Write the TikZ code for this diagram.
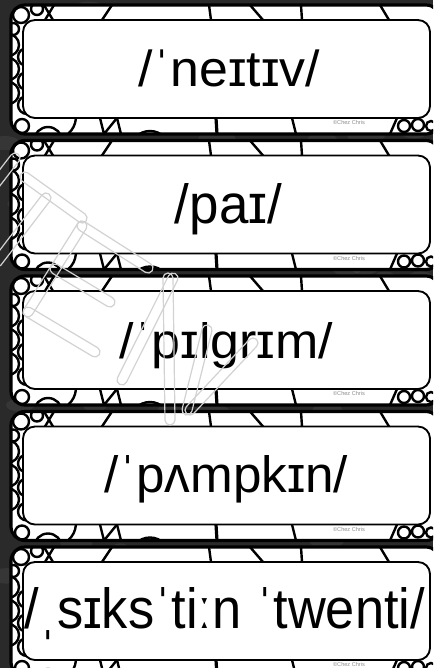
\documentclass[tikz,border=0pt]{standalone}
\usepackage{fontspec}
\usepackage{graphicx}
\newfontfamily\ipafont{Liberation Sans}
\definecolor{bgdark}{HTML}{2A2A2A}
\definecolor{wmark}{HTML}{D2D2D2}
\begin{document}
\begin{tikzpicture}[x=0.75pt,y=-0.75pt,
  innerbox/.style={draw=black, line width=1.4pt, fill=white, rounded corners=9pt,
    minimum width=305.25pt, minimum height=73.5pt, inner sep=0pt},
  doodle/.style={draw=black, line width=1.8pt},
  ipatext/.style={anchor=base, inner sep=0pt, font=\ipafont},
  credit/.style={font=\ipafont\fontsize{4.2pt}{5pt}\selectfont, text=black!45, inner sep=0pt},
  capsule/.style={draw=wmark, line width=0.9pt, rounded corners=3.7pt,
    minimum height=7.5pt, inner sep=0pt}
]
\useasboundingbox (0,0) rectangle (433,668);
\clip (0,0) rectangle (433,668);
% marble background
\fill[bgdark] (0,0) rectangle (433,668);
\pgfmathsetseed{12}
\foreach \k in {1,...,120}{
  \pgfmathsetmacro\bx{rnd*433}
  \pgfmathsetmacro\by{rnd*668}
  \pgfmathsetmacro\br{4+rnd*16}
  \fill[white, opacity=0.06] (\bx,\by) ellipse [x radius=\br, y radius=\br*0.45];
}
% cards
\foreach \cy [count=\i] in {5,140.5,276,411.5,547}{
  \fill[white, rounded corners=10.5pt] (11,\cy) rectangle (440,\cy+129);
  \begin{scope}
    \clip[rounded corners=10.5pt] (11,\cy) rectangle (440,\cy+129);
    % top strip
    \draw[doodle] (21,\cy+10) circle[radius=8];
    \draw[doodle] (37,\cy+4) circle[radius=6];
    \draw[doodle] (13,\cy+24) circle[radius=6];
    \draw[doodle] (44,\cy) -- (53,\cy+15) (54,\cy) -- (45,\cy+15);
    \draw[doodle] (112,\cy) -- (102,\cy+15);
    \draw[doodle] (209,\cy) -- (211,\cy+15);
    \draw[doodle] (250,\cy) -- (263,\cy+15);
    \draw[doodle] (301,\cy) -- (302,\cy+15);
    \draw[doodle] (380,\cy) -- (389,\cy+15);
    % left strip
    \foreach \yy in {40,64,88}{\draw[doodle] (8,\cy+\yy) circle[radius=11];}
    \foreach \yy in {52,76,100}{\draw[doodle] (27,\cy+\yy) circle[radius=9];}
    % bottom strip
    \draw[doodle] (22,\cy+121) circle[radius=7];
    \draw[doodle] (48,\cy+136) circle[radius=14];
    \draw[doodle] (76,\cy+113) to[bend left=20] (68,\cy+129);
    \draw[doodle] (100,\cy+113) -- (104,\cy+129) -- (117,\cy+113);
    \draw[doodle] (117,\cy+113) -- (121,\cy+129);
    \draw[doodle] (150,\cy+146) circle[radius=20];
    \draw[line width=2.4pt] (216,\cy+113) -- (217,\cy+129);
    \draw[doodle] (292,\cy+113) -- (296,\cy+129);
    \draw[doodle] (390,\cy+129) -- (397,\cy+113);
    \draw[doodle] (404,\cy+121) circle[radius=6];
    \draw[doodle] (418,\cy+120) circle[radius=6];
    \draw[doodle] (431,\cy+121) circle[radius=5];
  \end{scope}
  \draw[line width=2.4pt, rounded corners=10.5pt] (11,\cy) rectangle (440,\cy+129);
  \node[innerbox] (box\i) at (226.5,\cy+64) {};
  \node[credit] (cr\i) at (349,\cy+117.5) {©Chez Chris};
}
% words
\node[ipatext] (w1) at (229.5,86.7) {\resizebox{135.75pt}{27.5pt}{/ˈneɪtɪv/}};
\node[ipatext] (w2) at (228.5,223) {\resizebox{80.25pt}{30pt}{/paɪ/}};
\node[ipatext] (w3) at (226.5,358) {\resizebox{159.75pt}{27pt}{/ˈpɪlgrɪm/}};
\node[ipatext] (w4) at (226.5,492) {\resizebox{182.25pt}{27.75pt}{/ˈpʌmpkɪn/}};
\node[ipatext] (w5) at (225,628) {\resizebox{300pt}{30.75pt}{/ˌsɪksˈtiːn ˈtwenti/}};
% watermark
\node[capsule, minimum width=32.1pt, rotate=52.4] (m1) at (5,171) {};
\node[capsule, minimum width=60.2pt, rotate=-35.7] (m2) at (53.5,197.5) {};
\node[capsule, minimum width=68pt, rotate=52.6] (m3) at (21.5,230) {};
\node[capsule, minimum width=83.6pt, rotate=57.9] (m4) at (55,269) {};
\node[capsule, minimum width=66.2pt, rotate=-32.5] (m5) at (115,247) {};
\node[capsule, minimum width=55.6pt, rotate=-31] (m6) at (82.5,285.5) {};
\node[capsule, minimum width=66pt, rotate=-30.8] (m7) at (61.5,332) {};
\node[capsule, minimum width=93pt, rotate=63.4] (m8) at (147.5,329) {};
\node[capsule, minimum width=114pt, rotate=-89.2] (m9) at (169,349) {};
\node[capsule, minimum width=69.4pt, rotate=76] (m10) at (197,370) {};
\node[capsule, minimum width=76.5pt, rotate=46.8] (m11) at (221.5,376.5) {};
\end{tikzpicture}
\end{document}
